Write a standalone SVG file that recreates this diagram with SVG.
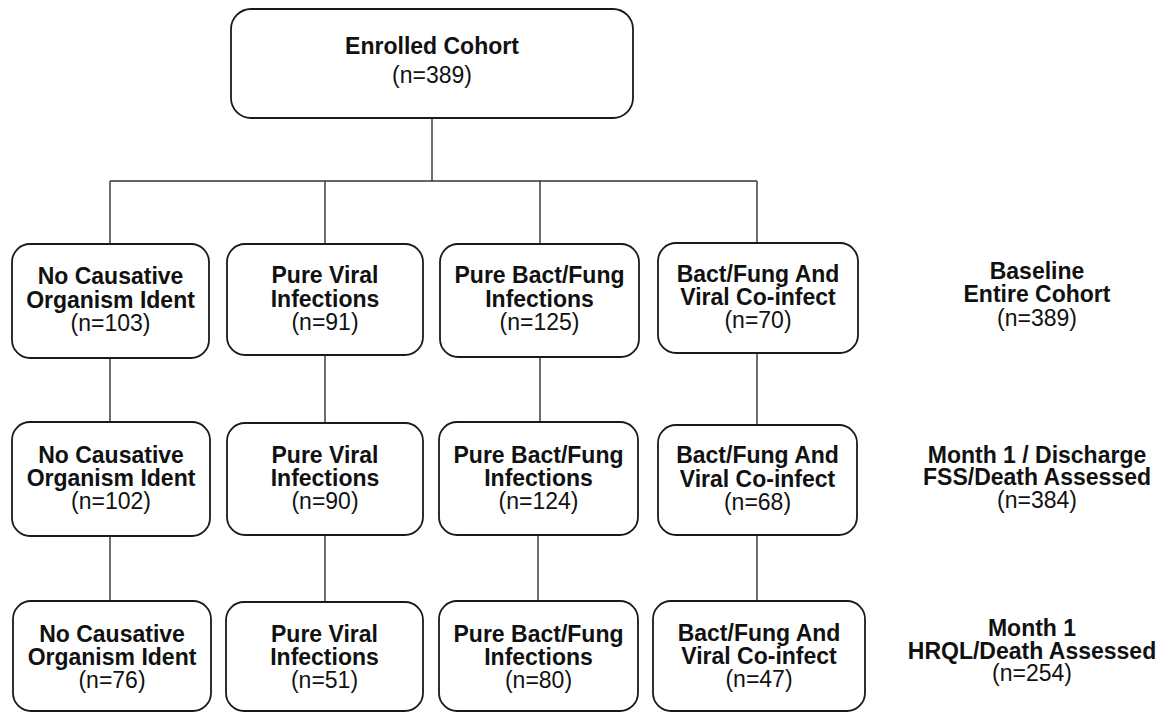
<svg xmlns="http://www.w3.org/2000/svg" width="1170" height="713" viewBox="0 0 1170 713">
<style>
.box{fill:#fff;stroke:#1a1a1a;stroke-width:1.8}
.con{stroke:#333;stroke-width:1.4;fill:none}
text{font-family:"Liberation Sans",Arial,sans-serif;font-size:23px;fill:#111;text-anchor:middle}
.b{font-weight:bold}
</style>
<rect width="1170" height="713" fill="#fff"/>
<g id="connectors">
<path class="con" d="M432 118V181M110 181H757M110 181V244M325 181V244M540 181V244M757 181V243"/>
<path class="con" d="M110 358V422M325 355V423M540 357V422M757 353V425"/>
<path class="con" d="M110 536V601M325 535V602M538 535V601M757 535V601"/>
</g>
<g id="enrolled">
<rect class="box" x="231" y="9" width="402" height="109" rx="20"/>
<text class="b" x="432" y="54">Enrolled Cohort</text>
<text x="432" y="83">(n=389)</text>
</g>
<g id="r1n1">
<rect class="box" x="12" y="244" width="197" height="114" rx="18"/>
<text class="b" x="110.5" y="284">No Causative</text>
<text class="b" x="110.5" y="308">Organism Ident</text>
<text x="110.5" y="331">(n=103)</text>
</g>
<g id="r1n2">
<rect class="box" x="227" y="244" width="196" height="111" rx="18"/>
<text class="b" x="325" y="283">Pure Viral</text>
<text class="b" x="325" y="307">Infections</text>
<text x="325" y="330">(n=91)</text>
</g>
<g id="r1n3">
<rect class="box" x="440" y="244" width="199" height="113" rx="18"/>
<text class="b" x="539.5" y="283">Pure Bact/Fung</text>
<text class="b" x="539.5" y="307">Infections</text>
<text x="539.5" y="330">(n=125)</text>
</g>
<g id="r1n4">
<rect class="box" x="658" y="243" width="200" height="110" rx="18"/>
<text class="b" x="758" y="282">Bact/Fung And</text>
<text class="b" x="758" y="305">Viral Co-infect</text>
<text x="758" y="328">(n=70)</text>
</g>
<g id="r2n1">
<rect class="box" x="12" y="422" width="198" height="114" rx="18"/>
<text class="b" x="111" y="463">No Causative</text>
<text class="b" x="111" y="486">Organism Ident</text>
<text x="111" y="509">(n=102)</text>
</g>
<g id="r2n2">
<rect class="box" x="227" y="423" width="196" height="112" rx="18"/>
<text class="b" x="325" y="463">Pure Viral</text>
<text class="b" x="325" y="486">Infections</text>
<text x="325" y="509">(n=90)</text>
</g>
<g id="r2n3">
<rect class="box" x="439" y="422" width="199" height="113" rx="18"/>
<text class="b" x="538.5" y="463">Pure Bact/Fung</text>
<text class="b" x="538.5" y="486">Infections</text>
<text x="538.5" y="509">(n=124)</text>
</g>
<g id="r2n4">
<rect class="box" x="658" y="425" width="199" height="110" rx="18"/>
<text class="b" x="757.5" y="463">Bact/Fung And</text>
<text class="b" x="757.5" y="487">Viral Co-infect</text>
<text x="757.5" y="510">(n=68)</text>
</g>
<g id="r3n1">
<rect class="box" x="13" y="601" width="198" height="110" rx="18"/>
<text class="b" x="112" y="642">No Causative</text>
<text class="b" x="112" y="665">Organism Ident</text>
<text x="112" y="688">(n=76)</text>
</g>
<g id="r3n2">
<rect class="box" x="226" y="602" width="197" height="109" rx="18"/>
<text class="b" x="324.5" y="642">Pure Viral</text>
<text class="b" x="324.5" y="665">Infections</text>
<text x="324.5" y="688">(n=51)</text>
</g>
<g id="r3n3">
<rect class="box" x="439" y="601" width="199" height="110" rx="18"/>
<text class="b" x="538.5" y="642">Pure Bact/Fung</text>
<text class="b" x="538.5" y="665">Infections</text>
<text x="538.5" y="688">(n=80)</text>
</g>
<g id="r3n4">
<rect class="box" x="653" y="601" width="212" height="110" rx="18"/>
<text class="b" x="759" y="641">Bact/Fung And</text>
<text class="b" x="759" y="664">Viral Co-infect</text>
<text x="759" y="687">(n=47)</text>
</g>
<g id="label-baseline">
<text class="b" x="1037" y="279">Baseline</text>
<text class="b" x="1037" y="302">Entire Cohort</text>
<text x="1037" y="326">(n=389)</text>
</g>
<g id="label-month1-discharge">
<text class="b" x="1037" y="463">Month 1 / Discharge</text>
<text class="b" x="1037" y="485">FSS/Death Assessed</text>
<text x="1037" y="508">(n=384)</text>
</g>
<g id="label-month1-hrql">
<text class="b" x="1032" y="636">Month 1</text>
<text class="b" x="1032" y="659">HRQL/Death Assessed</text>
<text x="1032" y="681">(n=254)</text>
</g>
</svg>
